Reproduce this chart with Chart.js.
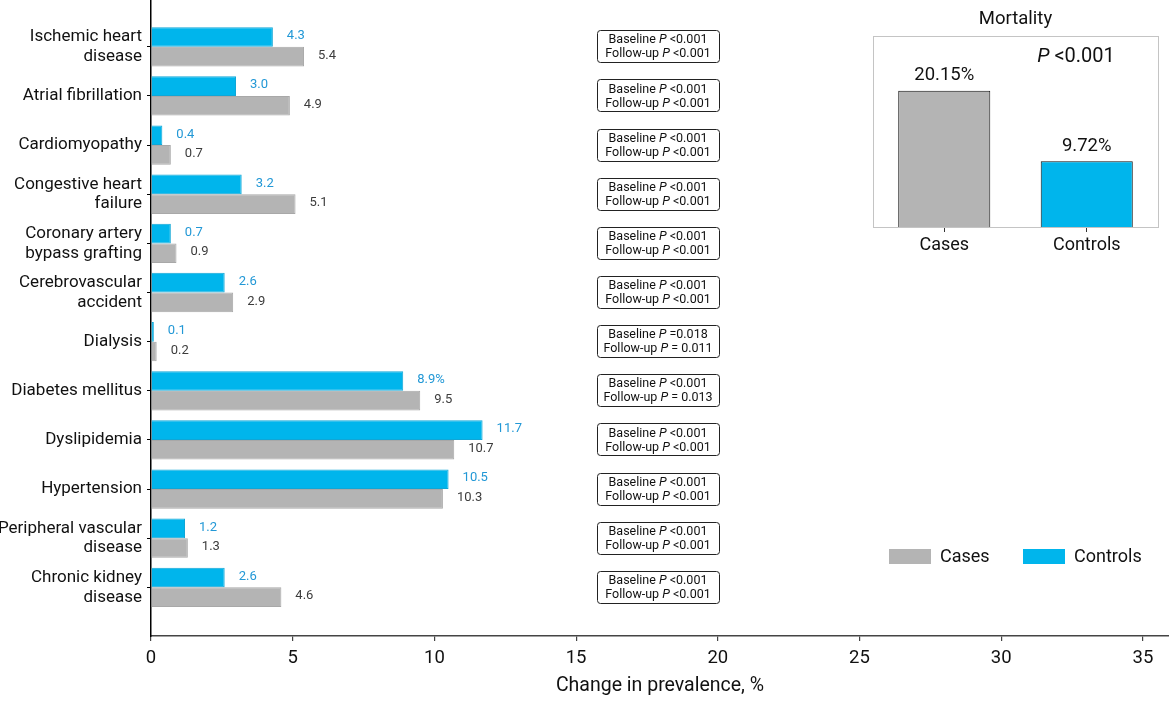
<!DOCTYPE html>
<html>
<head>
<meta charset="utf-8" />
<script src="https://cdn.jsdelivr.net/npm/chart.js@4.4.1/dist/chart.umd.min.js"></script>
<style>
  body{margin:0;background:#fff;overflow:hidden;}
  #wrap{position:relative;width:1169px;height:713px;}
  #main{position:absolute;left:0;top:0;}
  #mort{position:absolute;left:860px;top:0;}
</style>
</head>
<body>
<div id="wrap">
  <canvas id="main" width="1169" height="713"></canvas>
  <canvas id="mort" width="309" height="270"></canvas>
</div>
<script>
// ---- data ----
const CATEGORIES = [
  ['Ischemic heart', 'disease'], ['Atrial fibrillation'], ['Cardiomyopathy'],
  ['Congestive heart', 'failure'], ['Coronary artery', 'bypass grafting'],
  ['Cerebrovascular', 'accident'], ['Dialysis'], ['Diabetes mellitus'],
  ['Dyslipidemia'], ['Hypertension'], ['Peripheral vascular', 'disease'],
  ['Chronic kidney', 'disease']
];
const CONTROLS = [4.3, 3.0, 0.4, 3.2, 0.7, 2.6, 0.1, 8.9, 11.7, 10.5, 1.2, 2.6];
const CASES    = [5.4, 4.9, 0.7, 5.1, 0.9, 2.9, 0.2, 9.5, 10.7, 10.3, 1.3, 4.6];
const CONTROLS_TEXT = ['4.3', '3.0', '0.4', '3.2', '0.7', '2.6', '0.1', '8.9%', '11.7', '10.5', '1.2', '2.6'];
const CASES_TEXT    = ['5.4', '4.9', '0.7', '5.1', '0.9', '2.9', '0.2', '9.5', '10.7', '10.3', '1.3', '4.6'];
const BASELINE_P = ['<0.001', '<0.001', '<0.001', '<0.001', '<0.001', '<0.001', '=0.018', '<0.001', '<0.001', '<0.001', '<0.001', '<0.001'];
const FOLLOWUP_P = ['<0.001', '<0.001', '<0.001', '<0.001', '<0.001', '<0.001', '= 0.011', '= 0.013', '<0.001', '<0.001', '<0.001', '<0.001'];
const X_TICKS = [0, 5, 10, 15, 20, 25, 30, 35];

const MORT_GROUPS = ['Cases', 'Controls'];
const MORT_VALUES = [20.15, 9.72];
const MORT_TEXT = ['20.15%', '9.72%'];
const MORT_P = '<0.001';

// ---- style ----
const FONT = 'Roboto, "Liberation Sans", sans-serif';
const BLUE = '#00b5ec', BLUE_EDGE = '#10a6d6', BLUE_TEXT = '#2298d6';
const GRAY = '#b4b4b4', GRAY_EDGE = '#a8a8a8', GRAY_TEXT = '#3c3c3c';
const INK = '#111';

// text like "Baseline P <0.001" with an italic P, centred on cx
function drawPText(ctx, lead, val, cx, cy, size){
  const normal = size + 'px ' + FONT, ital = 'italic ' + size + 'px ' + FONT;
  ctx.font = normal;
  const w1 = ctx.measureText(lead).width, w3 = ctx.measureText(' ' + val).width;
  ctx.font = ital;
  const w2 = ctx.measureText('P').width;
  let x = cx - (w1 + w2 + w3) / 2;
  ctx.textAlign = 'left'; ctx.textBaseline = 'middle'; ctx.fillStyle = INK;
  ctx.font = normal; ctx.fillText(lead, x, cy); x += w1;
  ctx.font = ital; ctx.fillText('P', x, cy); x += w2;
  ctx.font = normal; ctx.fillText(' ' + val, x, cy);
}

const valueLabels = {
  id: 'valueLabels',
  afterDatasetsDraw(chart){
    const ctx = chart.ctx;
    ctx.save();
    ctx.font = '13px ' + FONT; ctx.textAlign = 'left'; ctx.textBaseline = 'middle';
    chart.data.datasets.forEach((ds, di) => {
      chart.getDatasetMeta(di).data.forEach((bar, i) => {
        ctx.fillStyle = ds.textColor;
        ctx.fillText(ds.valueText[i], bar.x + 14, bar.y - 1);
      });
    });
    ctx.restore();
  }
};

const pBoxes = {
  id: 'pBoxes',
  afterDatasetsDraw(chart){
    const {ctx, scales: {x, y}} = chart;
    const cx = Math.round(x.getPixelForValue(17.9));
    ctx.save();
    CATEGORIES.forEach((_, i) => {
      const cy = y.getPixelForValue(i);
      const top = Math.round(cy - 16.5) + 0.5;
      ctx.beginPath();
      ctx.roundRect(cx - 61 + 0.5, top, 122, 32, 3);
      ctx.strokeStyle = '#222'; ctx.lineWidth = 1; ctx.stroke();
      drawPText(ctx, 'Baseline ', BASELINE_P[i], cx, cy - 6.5, 12.5);
      drawPText(ctx, 'Follow-up ', FOLLOWUP_P[i], cx, cy + 7.5, 12.5);
    });
    ctx.restore();
  }
};

const cornerLegend = {
  id: 'cornerLegend',
  afterDraw(chart){
    const ctx = chart.ctx;
    const items = chart.data.datasets.slice().reverse();
    let x = 889; const y = 556;
    ctx.save();
    ctx.font = '18px ' + FONT; ctx.textBaseline = 'middle'; ctx.textAlign = 'left';
    items.forEach(ds => {
      ctx.fillStyle = ds.backgroundColor; ctx.fillRect(x, y - 7, 42, 15);
      ctx.fillStyle = INK; ctx.fillText(ds.label, x + 51, y + 1);
      x += 134;
    });
    ctx.restore();
  }
};

new Chart(document.getElementById('main'), {
  type: 'bar',
  data: {
    datasets: [
      { label: 'Controls', data: CONTROLS.map((v, i) => ({x: v, y: i})),
        backgroundColor: BLUE, borderColor: BLUE_EDGE, borderWidth: 1,
        categoryPercentage: 0.8, barPercentage: 1,
        textColor: BLUE_TEXT, valueText: CONTROLS_TEXT },
      { label: 'Cases', data: CASES.map((v, i) => ({x: v, y: i})),
        backgroundColor: GRAY, borderColor: GRAY_EDGE, borderWidth: 1,
        categoryPercentage: 0.8, barPercentage: 1,
        textColor: GRAY_TEXT, valueText: CASES_TEXT }
    ]
  },
  options: {
    indexAxis: 'y', responsive: false, animation: false, events: [],
    layout: { padding: 0 },
    plugins: { legend: { display: false }, tooltip: { enabled: false } },
    scales: {
      x: {
        type: 'linear', position: 'bottom', min: 0, max: 35.92, bounds: 'data', offset: false,
        afterBuildTicks: s => { s.ticks = X_TICKS.map(v => ({value: v})); },
        afterFit: s => { s.height = 77; s.paddingLeft = 0; s.paddingRight = 0; },
        grid: { drawOnChartArea: false, offset: false, tickLength: 5, color: '#444', lineWidth: 1.2 },
        border: { color: '#444', width: 1.5 },
        ticks: { autoSkip: false, maxRotation: 0, padding: 6, color: INK, font: { family: FONT, size: 18.5 } },
        title: { display: true, text: 'Change in prevalence, %', color: INK,
                 font: { family: FONT, size: 19.5 }, padding: { top: 0, bottom: 15 } }
      },
      y: {
        type: 'linear', position: 'left', reverse: true, min: -0.953, max: 11.99, bounds: 'data', offset: false,
        afterBuildTicks: s => { s.ticks = CATEGORIES.map((_, i) => ({value: i})); },
        afterFit: s => { s.width = 151; s.paddingTop = 0; s.paddingBottom = 0; },
        grid: { drawOnChartArea: false, offset: false, tickLength: 4, color: '#000' },
        border: { color: '#000', width: 1.5 },
        ticks: { autoSkip: false, padding: 5, color: INK,
                 font: { family: FONT, size: 17, lineHeight: 1.17 },
                 callback: v => CATEGORIES[v] }
      }
    }
  },
  plugins: [valueLabels, pBoxes, cornerLegend]
});

// ---- mortality inset ----
const insetFrame = {
  id: 'insetFrame',
  beforeDatasetsDraw(chart){
    const {ctx, chartArea: a} = chart;
    ctx.save();
    ctx.strokeStyle = '#c4c4c4'; ctx.lineWidth = 1;
    ctx.strokeRect(Math.round(a.left) + 0.5, Math.round(a.top) + 0.5, Math.round(a.width), Math.round(a.height));
    ctx.restore();
  },
  afterDatasetsDraw(chart){
    const ctx = chart.ctx;
    ctx.save();
    ctx.font = '18.5px ' + FONT; ctx.textAlign = 'center'; ctx.textBaseline = 'middle'; ctx.fillStyle = INK;
    chart.getDatasetMeta(0).data.forEach((bar, i) => ctx.fillText(MORT_TEXT[i], bar.x, bar.y - 15));
    drawPText(ctx, '', MORT_P, 216, 57, 20);
    ctx.restore();
  }
};

new Chart(document.getElementById('mort'), {
  type: 'bar',
  data: {
    labels: MORT_GROUPS,
    datasets: [{ data: MORT_VALUES, backgroundColor: [GRAY, BLUE], borderColor: '#111', borderWidth: 1,
                 barPercentage: 0.646, categoryPercentage: 1 }]
  },
  options: {
    responsive: false, animation: false, events: [],
    layout: { padding: { left: 13, right: 11, top: 0, bottom: 0 } },
    plugins: {
      legend: { display: false }, tooltip: { enabled: false },
      title: { display: true, text: 'Mortality', color: INK,
               font: { family: FONT, size: 18.5, weight: 'normal' }, padding: { top: 8, bottom: 6 } }
    },
    scales: {
      x: {
        grid: { drawOnChartArea: false, offset: false, tickLength: 5, color: '#333', tickColor: '#333', tickWidth: 1 },
        border: { display: false },
        ticks: { color: INK, padding: 3, font: { family: FONT, size: 18 } },
        afterFit: s => { s.height = 43; }
      },
      y: { display: false, min: 0, max: 28.2 }
    }
  },
  plugins: [insetFrame]
});
</script>
</body>
</html>
